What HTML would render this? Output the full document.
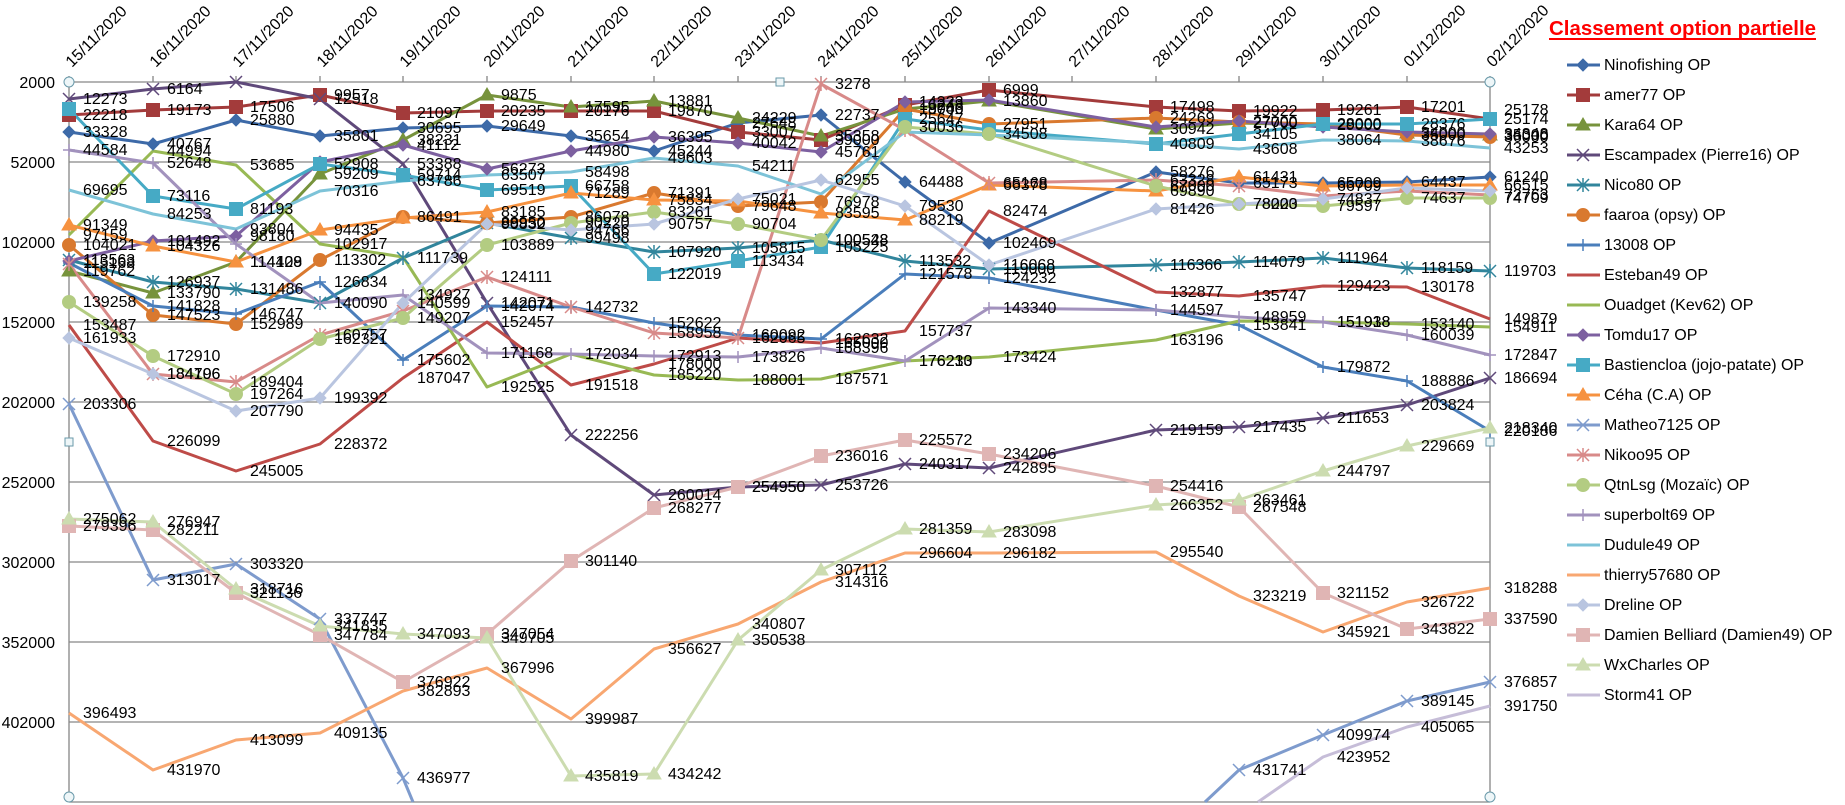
<!DOCTYPE html>
<html><head><meta charset="utf-8"><style>
html,body{margin:0;padding:0;background:#fff;width:1845px;height:805px;overflow:hidden;}
svg{display:block;font-family:"Liberation Sans",sans-serif;}
</style></head><body>
<svg width="1845" height="805" viewBox="0 0 1845 805" xmlns="http://www.w3.org/2000/svg" overflow="hidden">
<defs>
<g id="d"><polygon points="0,-6 6,0 0,6 -6,0"/></g>
<g id="s"><rect x="-6.5" y="-6.5" width="13" height="13"/></g>
<g id="t"><polygon points="0,-7 7,5 -7,5"/></g>
<g id="c"><circle r="6.5"/></g>
<g id="x"><path d="M-6,-6L6,6M-6,6L6,-6" stroke-width="1.5" fill="none"/></g>
<g id="st"><path d="M-6,-6L6,6M-6,6L6,-6M0,-7V7" stroke-width="1.5" fill="none"/></g>
<g id="p"><path d="M-6,0H6M0,-6V6" stroke-width="1.5" fill="none"/></g>
</defs>
<rect width="1845" height="805" fill="#fff"/>
<g stroke="#868686" stroke-width="1.3" fill="none">
<path d="M69,82H1490M69,162H1490M69,242H1490M69,322H1490M69,402H1490M69,482H1490M69,562H1490M69,642H1490M69,722H1490M69,802H1490"/>
<path d="M69,82V802M1490,82V802"/>
<path d="M69,76V82M153,76V82M236,76V82M320,76V82M403,76V82M487,76V82M571,76V82M654,76V82M738,76V82M821,76V82M905,76V82M989,76V82M1072,76V82M1156,76V82M1239,76V82M1323,76V82M1407,76V82M1490,76V82"/>
</g>
<g font-size="16" fill="#000" text-anchor="end">
<text x="55" y="88">2000</text><text x="55" y="168">52000</text><text x="55" y="248">102000</text><text x="55" y="328">152000</text><text x="55" y="408">202000</text><text x="55" y="488">252000</text><text x="55" y="568">302000</text><text x="55" y="648">352000</text><text x="55" y="728">402000</text>
</g>
<g font-size="16" fill="#000">
<text transform="translate(72,68) rotate(-45)">15/11/2020</text>
<text transform="translate(156,68) rotate(-45)">16/11/2020</text>
<text transform="translate(239,68) rotate(-45)">17/11/2020</text>
<text transform="translate(323,68) rotate(-45)">18/11/2020</text>
<text transform="translate(406,68) rotate(-45)">19/11/2020</text>
<text transform="translate(490,68) rotate(-45)">20/11/2020</text>
<text transform="translate(574,68) rotate(-45)">21/11/2020</text>
<text transform="translate(657,68) rotate(-45)">22/11/2020</text>
<text transform="translate(741,68) rotate(-45)">23/11/2020</text>
<text transform="translate(824,68) rotate(-45)">24/11/2020</text>
<text transform="translate(908,68) rotate(-45)">25/11/2020</text>
<text transform="translate(992,68) rotate(-45)">26/11/2020</text>
<text transform="translate(1075,68) rotate(-45)">27/11/2020</text>
<text transform="translate(1159,68) rotate(-45)">28/11/2020</text>
<text transform="translate(1242,68) rotate(-45)">29/11/2020</text>
<text transform="translate(1326,68) rotate(-45)">30/11/2020</text>
<text transform="translate(1410,68) rotate(-45)">01/12/2020</text>
<text transform="translate(1493,68) rotate(-45)">02/12/2020</text>
</g>

<g fill="none" stroke-width="3" stroke-linejoin="round">
<polyline stroke="#3D6AA8" points="69,132 153,144 236,120 320,136 403,128 487,126 571,136 654,151 738,123 821,115 905,182 989,243 1156,172 1239,183 1323,183 1407,182 1490,177"/>
<polyline stroke="#A33B3B" points="69,115 153,110 236,107 320,95 403,113 487,111 571,111 654,111 738,132 821,140 905,105 989,90 1156,107 1239,111 1323,110 1407,107 1490,119"/>
<polyline stroke="#77933C" points="69,271 153,293 236,262 320,174 403,140 487,95 571,107 654,101 738,118 821,136 905,109 989,101 1156,129 1239,123 1323,125 1407,133 1490,135"/>
<polyline stroke="#5F497A" points="69,99 153,89 236,82 320,99 403,164 487,303 571,435 654,495 738,487 821,485 905,464 989,468 1156,430 1239,427 1323,418 1407,405 1490,378"/>
<polyline stroke="#31859C" points="69,260 153,282 236,289 320,303 403,258 487,223 571,238 654,252 738,248 821,240 905,261 989,269 1156,265 1239,262 1323,258 1407,268 1490,271"/>
<polyline stroke="#D9792F" points="69,245 153,315 236,324 320,260 403,217 487,223 571,217 654,193 738,206 821,202 905,109 989,124 1156,118 1239,122 1323,124 1407,135 1490,137"/>
<polyline stroke="#4A7EBB" points="69,263 153,306 236,314 320,282 403,360 487,306 571,307 654,323 738,335 821,339 905,274 989,278 1156,310 1239,325 1323,367 1407,381 1490,431"/>
<polyline stroke="#BE4B48" points="69,325 153,441 236,471 320,444 403,378 487,322 571,385 654,364 738,338 821,343 905,331 989,211 1156,292 1239,296 1323,286 1407,287 1490,319"/>
<polyline stroke="#98B954" points="69,235 153,151 236,165 320,244 403,257 487,387 571,354 654,375 738,380 821,379 905,361 989,357 1156,340 1239,321 1323,322 1407,324 1490,327"/>
<polyline stroke="#7D60A0" points="69,261 153,241 236,236 320,162 403,145 487,169 571,151 654,137 738,143 821,152 905,102 989,100 1156,127 1239,121 1323,127 1407,132 1490,134"/>
<polyline stroke="#46AAC5" points="69,109 153,196 236,209 320,164 403,175 487,190 571,186 654,274 738,261 821,247 905,119 989,130 1156,144 1239,134 1323,124 1407,124 1490,119"/>
<polyline stroke="#F69240" points="69,225 153,246 236,262 320,230 403,218 487,212 571,193 654,200 738,201 821,213 905,220 989,185 1156,191 1239,177 1323,186 1407,185 1490,185"/>
<polyline stroke="#7E9BCD" points="69,404 153,580 236,564 320,619 403,778 413,802"/>
<polyline stroke="#7E9BCD" points="1205,802 1239,770 1323,735 1407,701 1490,682"/>
<polyline stroke="#D88A89" points="69,264 153,374 236,382 320,335 403,311 487,277 571,307 654,333 738,338 821,84 905,130 989,183 1156,180 1239,186 1323,196 1407,191 1490,195"/>
<polyline stroke="#B3CC82" points="69,302 153,356 236,394 320,339 403,318 487,245 571,223 654,212 738,224 821,240 905,127 989,134 1156,186 1239,204 1323,206 1407,198 1490,198"/>
<polyline stroke="#A292BD" points="69,150 153,163 236,244 320,303 403,295 487,353 571,354 654,356 738,357 821,348 905,361 989,308 1156,310 1239,317 1323,322 1407,335 1490,355"/>
<polyline stroke="#7DC3D8" points="69,190 153,214 236,229 320,191 403,181 487,175 571,172 654,158 738,166 821,194 905,132 989,135 1156,143 1239,149 1323,140 1407,141 1490,148"/>
<polyline stroke="#F8A771" points="69,713 153,770 236,740 320,733 403,691 487,668 571,719 654,649 738,624 821,582 905,553 989,553 1156,552 1239,596 1323,632 1407,602 1490,588"/>
<polyline stroke="#B9C5E0" points="69,338 153,374 236,411 320,398 403,303 487,224 571,230 654,224 738,199 821,180 905,206 989,265 1156,209 1239,204 1323,199 1407,188 1490,191"/>
<polyline stroke="#E0B5B4" points="69,526 153,530 236,593 320,635 403,682 487,634 571,561 654,508 738,487 821,456 905,440 989,454 1156,486 1239,507 1323,593 1407,629 1490,619"/>
<polyline stroke="#CCDCB0" points="69,519 153,522 236,589 320,626 403,634 487,638 571,776 654,774 738,640 821,570 905,529 989,532 1156,505 1239,500 1323,471 1407,446 1490,428"/>
<polyline stroke="#C6BDD8" points="1258,802 1323,757 1407,727 1490,706"/>
</g>

<g>
<g fill="#3D6AA8" stroke="#3D6AA8"><use href="#d" x="69" y="132"/><use href="#d" x="153" y="144"/><use href="#d" x="236" y="120"/><use href="#d" x="320" y="136"/><use href="#d" x="403" y="128"/><use href="#d" x="487" y="126"/><use href="#d" x="571" y="136"/><use href="#d" x="654" y="151"/><use href="#d" x="738" y="123"/><use href="#d" x="821" y="115"/><use href="#d" x="905" y="182"/><use href="#d" x="989" y="243"/><use href="#d" x="1156" y="172"/><use href="#d" x="1239" y="183"/><use href="#d" x="1323" y="183"/><use href="#d" x="1407" y="182"/><use href="#d" x="1490" y="177"/></g>
<g fill="#A33B3B" stroke="#A33B3B"><use href="#s" x="69" y="115"/><use href="#s" x="153" y="110"/><use href="#s" x="236" y="107"/><use href="#s" x="320" y="95"/><use href="#s" x="403" y="113"/><use href="#s" x="487" y="111"/><use href="#s" x="571" y="111"/><use href="#s" x="654" y="111"/><use href="#s" x="738" y="132"/><use href="#s" x="821" y="140"/><use href="#s" x="905" y="105"/><use href="#s" x="989" y="90"/><use href="#s" x="1156" y="107"/><use href="#s" x="1239" y="111"/><use href="#s" x="1323" y="110"/><use href="#s" x="1407" y="107"/><use href="#s" x="1490" y="119"/></g>
<g fill="#77933C" stroke="#77933C"><use href="#t" x="69" y="271"/><use href="#t" x="153" y="293"/><use href="#t" x="236" y="262"/><use href="#t" x="320" y="174"/><use href="#t" x="403" y="140"/><use href="#t" x="487" y="95"/><use href="#t" x="571" y="107"/><use href="#t" x="654" y="101"/><use href="#t" x="738" y="118"/><use href="#t" x="821" y="136"/><use href="#t" x="905" y="109"/><use href="#t" x="989" y="101"/><use href="#t" x="1156" y="129"/><use href="#t" x="1239" y="123"/><use href="#t" x="1323" y="125"/><use href="#t" x="1407" y="133"/><use href="#t" x="1490" y="135"/></g>
<g fill="#5F497A" stroke="#5F497A"><use href="#x" x="69" y="99"/><use href="#x" x="153" y="89"/><use href="#x" x="236" y="82"/><use href="#x" x="320" y="99"/><use href="#x" x="403" y="164"/><use href="#x" x="487" y="303"/><use href="#x" x="571" y="435"/><use href="#x" x="654" y="495"/><use href="#x" x="738" y="487"/><use href="#x" x="821" y="485"/><use href="#x" x="905" y="464"/><use href="#x" x="989" y="468"/><use href="#x" x="1156" y="430"/><use href="#x" x="1239" y="427"/><use href="#x" x="1323" y="418"/><use href="#x" x="1407" y="405"/><use href="#x" x="1490" y="378"/></g>
<g fill="#31859C" stroke="#31859C"><use href="#st" x="69" y="260"/><use href="#st" x="153" y="282"/><use href="#st" x="236" y="289"/><use href="#st" x="320" y="303"/><use href="#st" x="403" y="258"/><use href="#st" x="487" y="223"/><use href="#st" x="571" y="238"/><use href="#st" x="654" y="252"/><use href="#st" x="738" y="248"/><use href="#st" x="821" y="240"/><use href="#st" x="905" y="261"/><use href="#st" x="989" y="269"/><use href="#st" x="1156" y="265"/><use href="#st" x="1239" y="262"/><use href="#st" x="1323" y="258"/><use href="#st" x="1407" y="268"/><use href="#st" x="1490" y="271"/></g>
<g fill="#D9792F" stroke="#D9792F"><use href="#c" x="69" y="245"/><use href="#c" x="153" y="315"/><use href="#c" x="236" y="324"/><use href="#c" x="320" y="260"/><use href="#c" x="403" y="217"/><use href="#c" x="487" y="223"/><use href="#c" x="571" y="217"/><use href="#c" x="654" y="193"/><use href="#c" x="738" y="206"/><use href="#c" x="821" y="202"/><use href="#c" x="905" y="109"/><use href="#c" x="989" y="124"/><use href="#c" x="1156" y="118"/><use href="#c" x="1239" y="122"/><use href="#c" x="1323" y="124"/><use href="#c" x="1407" y="135"/><use href="#c" x="1490" y="137"/></g>
<g fill="#4A7EBB" stroke="#4A7EBB"><use href="#p" x="69" y="263"/><use href="#p" x="153" y="306"/><use href="#p" x="236" y="314"/><use href="#p" x="320" y="282"/><use href="#p" x="403" y="360"/><use href="#p" x="487" y="306"/><use href="#p" x="571" y="307"/><use href="#p" x="654" y="323"/><use href="#p" x="738" y="335"/><use href="#p" x="821" y="339"/><use href="#p" x="905" y="274"/><use href="#p" x="989" y="278"/><use href="#p" x="1156" y="310"/><use href="#p" x="1239" y="325"/><use href="#p" x="1323" y="367"/><use href="#p" x="1407" y="381"/><use href="#p" x="1490" y="431"/></g>
<g fill="#7D60A0" stroke="#7D60A0"><use href="#d" x="69" y="261"/><use href="#d" x="153" y="241"/><use href="#d" x="236" y="236"/><use href="#d" x="320" y="162"/><use href="#d" x="403" y="145"/><use href="#d" x="487" y="169"/><use href="#d" x="571" y="151"/><use href="#d" x="654" y="137"/><use href="#d" x="738" y="143"/><use href="#d" x="821" y="152"/><use href="#d" x="905" y="102"/><use href="#d" x="989" y="100"/><use href="#d" x="1156" y="127"/><use href="#d" x="1239" y="121"/><use href="#d" x="1323" y="127"/><use href="#d" x="1407" y="132"/><use href="#d" x="1490" y="134"/></g>
<g fill="#46AAC5" stroke="#46AAC5"><use href="#s" x="69" y="109"/><use href="#s" x="153" y="196"/><use href="#s" x="236" y="209"/><use href="#s" x="320" y="164"/><use href="#s" x="403" y="175"/><use href="#s" x="487" y="190"/><use href="#s" x="571" y="186"/><use href="#s" x="654" y="274"/><use href="#s" x="738" y="261"/><use href="#s" x="821" y="247"/><use href="#s" x="905" y="119"/><use href="#s" x="989" y="130"/><use href="#s" x="1156" y="144"/><use href="#s" x="1239" y="134"/><use href="#s" x="1323" y="124"/><use href="#s" x="1407" y="124"/><use href="#s" x="1490" y="119"/></g>
<g fill="#F69240" stroke="#F69240"><use href="#t" x="69" y="225"/><use href="#t" x="153" y="246"/><use href="#t" x="236" y="262"/><use href="#t" x="320" y="230"/><use href="#t" x="403" y="218"/><use href="#t" x="487" y="212"/><use href="#t" x="571" y="193"/><use href="#t" x="654" y="200"/><use href="#t" x="738" y="201"/><use href="#t" x="821" y="213"/><use href="#t" x="905" y="220"/><use href="#t" x="989" y="185"/><use href="#t" x="1156" y="191"/><use href="#t" x="1239" y="177"/><use href="#t" x="1323" y="186"/><use href="#t" x="1407" y="185"/><use href="#t" x="1490" y="185"/></g>
<g fill="#7E9BCD" stroke="#7E9BCD"><use href="#x" x="69" y="404"/><use href="#x" x="153" y="580"/><use href="#x" x="236" y="564"/><use href="#x" x="320" y="619"/><use href="#x" x="403" y="778"/><use href="#x" x="1239" y="770"/><use href="#x" x="1323" y="735"/><use href="#x" x="1407" y="701"/><use href="#x" x="1490" y="682"/></g>
<g fill="#D88A89" stroke="#D88A89"><use href="#st" x="69" y="264"/><use href="#st" x="153" y="374"/><use href="#st" x="236" y="382"/><use href="#st" x="320" y="335"/><use href="#st" x="403" y="311"/><use href="#st" x="487" y="277"/><use href="#st" x="571" y="307"/><use href="#st" x="654" y="333"/><use href="#st" x="738" y="338"/><use href="#st" x="821" y="84"/><use href="#st" x="905" y="130"/><use href="#st" x="989" y="183"/><use href="#st" x="1156" y="180"/><use href="#st" x="1239" y="186"/><use href="#st" x="1323" y="196"/><use href="#st" x="1407" y="191"/><use href="#st" x="1490" y="195"/></g>
<g fill="#B3CC82" stroke="#B3CC82"><use href="#c" x="69" y="302"/><use href="#c" x="153" y="356"/><use href="#c" x="236" y="394"/><use href="#c" x="320" y="339"/><use href="#c" x="403" y="318"/><use href="#c" x="487" y="245"/><use href="#c" x="571" y="223"/><use href="#c" x="654" y="212"/><use href="#c" x="738" y="224"/><use href="#c" x="821" y="240"/><use href="#c" x="905" y="127"/><use href="#c" x="989" y="134"/><use href="#c" x="1156" y="186"/><use href="#c" x="1239" y="204"/><use href="#c" x="1323" y="206"/><use href="#c" x="1407" y="198"/><use href="#c" x="1490" y="198"/></g>
<g fill="#A292BD" stroke="#A292BD"><use href="#p" x="69" y="150"/><use href="#p" x="153" y="163"/><use href="#p" x="236" y="244"/><use href="#p" x="320" y="303"/><use href="#p" x="403" y="295"/><use href="#p" x="487" y="353"/><use href="#p" x="571" y="354"/><use href="#p" x="654" y="356"/><use href="#p" x="738" y="357"/><use href="#p" x="821" y="348"/><use href="#p" x="905" y="361"/><use href="#p" x="989" y="308"/><use href="#p" x="1156" y="310"/><use href="#p" x="1239" y="317"/><use href="#p" x="1323" y="322"/><use href="#p" x="1407" y="335"/><use href="#p" x="1490" y="355"/></g>
<g fill="#B9C5E0" stroke="#B9C5E0"><use href="#d" x="69" y="338"/><use href="#d" x="153" y="374"/><use href="#d" x="236" y="411"/><use href="#d" x="320" y="398"/><use href="#d" x="403" y="303"/><use href="#d" x="487" y="224"/><use href="#d" x="571" y="230"/><use href="#d" x="654" y="224"/><use href="#d" x="738" y="199"/><use href="#d" x="821" y="180"/><use href="#d" x="905" y="206"/><use href="#d" x="989" y="265"/><use href="#d" x="1156" y="209"/><use href="#d" x="1239" y="204"/><use href="#d" x="1323" y="199"/><use href="#d" x="1407" y="188"/><use href="#d" x="1490" y="191"/></g>
<g fill="#E0B5B4" stroke="#E0B5B4"><use href="#s" x="69" y="526"/><use href="#s" x="153" y="530"/><use href="#s" x="236" y="593"/><use href="#s" x="320" y="635"/><use href="#s" x="403" y="682"/><use href="#s" x="487" y="634"/><use href="#s" x="571" y="561"/><use href="#s" x="654" y="508"/><use href="#s" x="738" y="487"/><use href="#s" x="821" y="456"/><use href="#s" x="905" y="440"/><use href="#s" x="989" y="454"/><use href="#s" x="1156" y="486"/><use href="#s" x="1239" y="507"/><use href="#s" x="1323" y="593"/><use href="#s" x="1407" y="629"/><use href="#s" x="1490" y="619"/></g>
<g fill="#CCDCB0" stroke="#CCDCB0"><use href="#t" x="69" y="519"/><use href="#t" x="153" y="522"/><use href="#t" x="236" y="589"/><use href="#t" x="320" y="626"/><use href="#t" x="403" y="634"/><use href="#t" x="487" y="638"/><use href="#t" x="571" y="776"/><use href="#t" x="654" y="774"/><use href="#t" x="738" y="640"/><use href="#t" x="821" y="570"/><use href="#t" x="905" y="529"/><use href="#t" x="989" y="532"/><use href="#t" x="1156" y="505"/><use href="#t" x="1239" y="500"/><use href="#t" x="1323" y="471"/><use href="#t" x="1407" y="446"/><use href="#t" x="1490" y="428"/></g>
</g>

<g font-size="16" fill="#000">
<text x="83" y="137">33328</text><text x="167" y="149">40767</text><text x="250" y="125">25880</text><text x="334" y="141">35801</text><text x="417" y="133">30695</text><text x="501" y="131">29649</text><text x="585" y="141">35654</text><text x="668" y="156">45244</text><text x="752" y="128">27648</text><text x="835" y="120">22737</text><text x="919" y="187">64488</text><text x="1003" y="248">102469</text><text x="1170" y="177">58276</text><text x="1253" y="188">65173</text><text x="1337" y="188">65009</text><text x="1421" y="187">64437</text><text x="1504" y="182">61240</text>
<text x="83" y="120">22218</text><text x="167" y="115">19173</text><text x="250" y="112">17506</text><text x="334" y="100">9957</text><text x="417" y="118">21097</text><text x="501" y="116">20235</text><text x="585" y="116">20176</text><text x="668" y="116">19870</text><text x="752" y="137">33007</text><text x="835" y="145">39000</text><text x="919" y="110">16248</text><text x="1003" y="95">6999</text><text x="1170" y="112">17498</text><text x="1253" y="116">19922</text><text x="1337" y="115">19261</text><text x="1421" y="112">17201</text><text x="1504" y="124">25174</text>
<text x="83" y="276">119762</text><text x="167" y="298">133790</text><text x="250" y="267">114128</text><text x="334" y="179">59209</text><text x="417" y="145">38231</text><text x="501" y="100">9875</text><text x="585" y="112">17595</text><text x="668" y="106">13881</text><text x="752" y="123">24229</text><text x="835" y="141">35358</text><text x="919" y="114">18746</text><text x="1003" y="106">13860</text><text x="1170" y="134">30942</text><text x="1253" y="128">27700</text><text x="1337" y="130">29000</text><text x="1421" y="138">34000</text><text x="1504" y="140">35000</text>
<text x="83" y="104">12273</text><text x="167" y="94">6164</text><text x="334" y="104">12518</text><text x="417" y="169">53388</text><text x="501" y="308">142071</text><text x="585" y="440">222256</text><text x="668" y="500">260014</text><text x="752" y="492">254950</text><text x="835" y="490">253726</text><text x="919" y="469">240317</text><text x="1003" y="473">242895</text><text x="1170" y="435">219159</text><text x="1253" y="432">217435</text><text x="1337" y="423">211653</text><text x="1421" y="410">203824</text><text x="1504" y="383">186694</text>
<text x="83" y="265">113563</text><text x="167" y="287">126937</text><text x="250" y="294">131486</text><text x="334" y="308">140090</text><text x="417" y="263">111739</text><text x="501" y="228">88950</text><text x="585" y="243">99498</text><text x="668" y="257">107920</text><text x="752" y="253">105815</text><text x="835" y="245">100528</text><text x="919" y="266">113532</text><text x="1003" y="274">119000</text><text x="1170" y="270">116366</text><text x="1253" y="267">114079</text><text x="1337" y="263">111964</text><text x="1421" y="273">118159</text><text x="1504" y="276">119703</text>
<text x="83" y="250">104021</text><text x="167" y="320">147523</text><text x="250" y="329">152989</text><text x="334" y="265">113302</text><text x="417" y="222">86491</text><text x="501" y="228">89950</text><text x="585" y="222">86078</text><text x="668" y="198">71391</text><text x="752" y="211">79648</text><text x="835" y="207">76978</text><text x="919" y="114">19000</text><text x="1003" y="129">27951</text><text x="1170" y="123">24269</text><text x="1253" y="127">27000</text><text x="1337" y="129">28000</text><text x="1421" y="140">35000</text><text x="1504" y="142">36000</text>
<text x="83" y="268">115168</text><text x="167" y="311">141828</text><text x="250" y="319">146747</text><text x="334" y="287">126834</text><text x="417" y="365">175602</text><text x="501" y="311">142074</text><text x="585" y="312">142732</text><text x="668" y="328">152622</text><text x="752" y="340">160092</text><text x="835" y="344">162632</text><text x="919" y="279">121578</text><text x="1003" y="283">124232</text><text x="1170" y="315">144597</text><text x="1253" y="330">153841</text><text x="1337" y="372">179872</text><text x="1421" y="386">188886</text><text x="1504" y="436">220186</text>
<text x="83" y="330">153487</text><text x="167" y="446">226099</text><text x="250" y="476">245005</text><text x="334" y="449">228372</text><text x="417" y="383">187047</text><text x="501" y="327">152457</text><text x="585" y="390">191518</text><text x="668" y="369">178000</text><text x="752" y="343">162065</text><text x="835" y="348">165000</text><text x="919" y="336">157737</text><text x="1003" y="216">82474</text><text x="1170" y="297">132877</text><text x="1253" y="301">135747</text><text x="1337" y="291">129423</text><text x="1421" y="292">130178</text><text x="1504" y="324">149879</text>
<text x="83" y="240">97159</text><text x="167" y="156">44994</text><text x="250" y="170">53685</text><text x="334" y="249">102917</text><text x="501" y="392">192525</text><text x="585" y="359">172034</text><text x="668" y="380">185220</text><text x="752" y="385">188001</text><text x="835" y="384">187571</text><text x="919" y="366">176230</text><text x="1003" y="362">173424</text><text x="1170" y="345">163196</text><text x="1337" y="327">151938</text><text x="1421" y="329">153140</text><text x="1504" y="332">154911</text>
<text x="167" y="246">101492</text><text x="250" y="241">98180</text><text x="417" y="150">41112</text><text x="501" y="174">56273</text><text x="585" y="156">44980</text><text x="668" y="142">36395</text><text x="752" y="148">40042</text><text x="835" y="157">45761</text><text x="919" y="107">14323</text><text x="1504" y="139">34348</text>
<text x="167" y="201">73116</text><text x="250" y="214">81193</text><text x="334" y="169">52908</text><text x="417" y="180">59714</text><text x="501" y="195">69519</text><text x="585" y="191">66758</text><text x="668" y="279">122019</text><text x="752" y="266">113434</text><text x="835" y="252">105225</text><text x="919" y="124">25647</text><text x="1170" y="149">40809</text><text x="1253" y="139">34105</text><text x="1421" y="129">28376</text><text x="1504" y="115">25178</text>
<text x="83" y="230">91349</text><text x="167" y="251">104326</text><text x="250" y="267">114409</text><text x="334" y="235">94435</text><text x="501" y="217">83185</text><text x="585" y="198">71289</text><text x="668" y="205">75834</text><text x="835" y="218">83595</text><text x="919" y="225">88219</text><text x="1003" y="190">66378</text><text x="1170" y="196">69890</text><text x="1253" y="182">61431</text><text x="1337" y="191">66709</text><text x="1504" y="190">66515</text>
<text x="83" y="409">203306</text><text x="167" y="585">313017</text><text x="250" y="569">303320</text><text x="334" y="624">337747</text><text x="417" y="783">436977</text><text x="1253" y="775">431741</text><text x="1337" y="740">409974</text><text x="1421" y="706">389145</text><text x="1504" y="687">376857</text>
<text x="167" y="379">184706</text><text x="250" y="387">189404</text><text x="334" y="340">160757</text><text x="501" y="282">124111</text><text x="668" y="338">158958</text><text x="835" y="89">3278</text><text x="1003" y="188">65168</text><text x="1170" y="185">63328</text><text x="1504" y="200">72763</text>
<text x="83" y="307">139258</text><text x="167" y="361">172910</text><text x="250" y="399">197264</text><text x="334" y="344">162321</text><text x="417" y="323">149207</text><text x="501" y="250">103889</text><text x="585" y="228">90220</text><text x="668" y="217">83261</text><text x="752" y="229">90704</text><text x="835" y="245">100548</text><text x="919" y="132">30036</text><text x="1003" y="139">34508</text><text x="1170" y="191">67000</text><text x="1253" y="209">78000</text><text x="1337" y="211">79597</text><text x="1421" y="203">74637</text><text x="1504" y="203">74709</text>
<text x="83" y="155">44584</text><text x="167" y="168">52648</text><text x="417" y="300">134927</text><text x="501" y="358">171168</text><text x="668" y="361">172913</text><text x="752" y="362">173826</text><text x="835" y="353">168396</text><text x="919" y="366">176213</text><text x="1003" y="313">143340</text><text x="1253" y="322">148959</text><text x="1337" y="327">151918</text><text x="1421" y="340">160039</text><text x="1504" y="360">172847</text>
<text x="83" y="195">69695</text><text x="167" y="219">84253</text><text x="250" y="234">93804</text><text x="334" y="196">70316</text><text x="417" y="186">63786</text><text x="501" y="180">63507</text><text x="585" y="177">58498</text><text x="668" y="163">49603</text><text x="752" y="171">54211</text><text x="1253" y="154">43608</text><text x="1337" y="145">38064</text><text x="1421" y="146">38676</text><text x="1504" y="153">43253</text>
<text x="83" y="718">396493</text><text x="167" y="775">431970</text><text x="250" y="745">413099</text><text x="334" y="738">409135</text><text x="417" y="696">382893</text><text x="501" y="673">367996</text><text x="585" y="724">399987</text><text x="668" y="654">356627</text><text x="752" y="629">340807</text><text x="835" y="587">314316</text><text x="919" y="558">296604</text><text x="1003" y="558">296182</text><text x="1170" y="557">295540</text><text x="1253" y="601">323219</text><text x="1337" y="637">345921</text><text x="1421" y="607">326722</text><text x="1504" y="593">318288</text>
<text x="83" y="343">161933</text><text x="167" y="379">184196</text><text x="250" y="416">207790</text><text x="334" y="403">199392</text><text x="417" y="308">140599</text><text x="501" y="229">90832</text><text x="585" y="235">94766</text><text x="668" y="229">90757</text><text x="752" y="204">75021</text><text x="835" y="185">62955</text><text x="919" y="211">79530</text><text x="1003" y="270">116068</text><text x="1170" y="214">81426</text><text x="1253" y="209">78223</text><text x="1337" y="204">74837</text>
<text x="83" y="531">279396</text><text x="167" y="535">282211</text><text x="250" y="598">321136</text><text x="334" y="640">347784</text><text x="417" y="687">376922</text><text x="501" y="639">347054</text><text x="585" y="566">301140</text><text x="668" y="513">268277</text><text x="752" y="492">254950</text><text x="835" y="461">236016</text><text x="919" y="445">225572</text><text x="1003" y="459">234206</text><text x="1170" y="491">254416</text><text x="1253" y="512">267548</text><text x="1337" y="598">321152</text><text x="1421" y="634">343822</text><text x="1504" y="624">337590</text>
<text x="83" y="524">275062</text><text x="167" y="527">276947</text><text x="250" y="594">318716</text><text x="334" y="631">341835</text><text x="417" y="639">347093</text><text x="501" y="643">349705</text><text x="585" y="781">435819</text><text x="668" y="779">434242</text><text x="752" y="645">350538</text><text x="835" y="575">307112</text><text x="919" y="534">281359</text><text x="1003" y="537">283098</text><text x="1170" y="510">266352</text><text x="1253" y="505">263461</text><text x="1337" y="476">244797</text><text x="1421" y="451">229669</text><text x="1504" y="433">218340</text>
<text x="1337" y="762">423952</text><text x="1421" y="732">405065</text><text x="1504" y="711">391750</text>
</g>

<g fill="#eef6f8" stroke="#6a9aaa" stroke-width="1">
<circle cx="69" cy="82" r="5"/><circle cx="1490" cy="82" r="5"/><circle cx="69" cy="797" r="5"/><circle cx="1490" cy="797" r="5"/>
<rect x="776" y="78" width="8" height="8"/><rect x="65" y="438" width="8" height="8"/><rect x="1486" y="438" width="8" height="8"/>
</g>

<text x="1549" y="35" font-size="20" font-weight="bold" fill="#FF0000" textLength="267" lengthAdjust="spacingAndGlyphs">Classement option partielle</text>
<rect x="1549" y="38" width="267" height="2" fill="#FF0000"/>

<g font-size="16" fill="#000">
<text x="1604" y="70">Ninofishing OP</text>
<text x="1604" y="100">amer77 OP</text>
<text x="1604" y="130">Kara64  OP</text>
<text x="1604" y="160">Escampadex (Pierre16) OP</text>
<text x="1604" y="190">Nico80 OP</text>
<text x="1604" y="220">faaroa (opsy) OP</text>
<text x="1604" y="250">13008 OP</text>
<text x="1604" y="280">Esteban49 OP</text>
<text x="1604" y="310">Ouadget (Kev62) OP</text>
<text x="1604" y="340">Tomdu17 OP</text>
<text x="1604" y="370">Bastiencloa (jojo-patate) OP</text>
<text x="1604" y="400">Céha (C.A) OP</text>
<text x="1604" y="430">Matheo7125 OP</text>
<text x="1604" y="460">Nikoo95 OP</text>
<text x="1604" y="490">QtnLsg (Mozaïc) OP</text>
<text x="1604" y="520">superbolt69 OP</text>
<text x="1604" y="550">Dudule49 OP</text>
<text x="1604" y="580">thierry57680 OP</text>
<text x="1604" y="610">Dreline OP</text>
<text x="1604" y="640">Damien Belliard (Damien49) OP</text>
<text x="1604" y="670">WxCharles OP</text>
<text x="1604" y="700">Storm41 OP</text>
</g>
<g stroke-width="3">
<path d="M1567,65H1600" stroke="#3D6AA8"/><path d="M1567,95H1600" stroke="#A33B3B"/><path d="M1567,125H1600" stroke="#77933C"/><path d="M1567,155H1600" stroke="#5F497A"/><path d="M1567,185H1600" stroke="#31859C"/><path d="M1567,215H1600" stroke="#D9792F"/><path d="M1567,245H1600" stroke="#4A7EBB"/><path d="M1567,275H1600" stroke="#BE4B48"/><path d="M1567,305H1600" stroke="#98B954"/><path d="M1567,335H1600" stroke="#7D60A0"/><path d="M1567,365H1600" stroke="#46AAC5"/><path d="M1567,395H1600" stroke="#F69240"/><path d="M1567,425H1600" stroke="#7E9BCD"/><path d="M1567,455H1600" stroke="#D88A89"/><path d="M1567,485H1600" stroke="#B3CC82"/><path d="M1567,515H1600" stroke="#A292BD"/><path d="M1567,545H1600" stroke="#7DC3D8"/><path d="M1567,575H1600" stroke="#F8A771"/><path d="M1567,605H1600" stroke="#B9C5E0"/><path d="M1567,635H1600" stroke="#E0B5B4"/><path d="M1567,665H1600" stroke="#CCDCB0"/><path d="M1567,695H1600" stroke="#C6BDD8"/>
</g>
<use href="#d" x="1583" y="65" fill="#3D6AA8" stroke="#3D6AA8"/>
<use href="#s" x="1583" y="95" fill="#A33B3B" stroke="#A33B3B"/>
<use href="#t" x="1583" y="125" fill="#77933C" stroke="#77933C"/>
<use href="#x" x="1583" y="155" fill="#5F497A" stroke="#5F497A"/>
<use href="#st" x="1583" y="185" fill="#31859C" stroke="#31859C"/>
<use href="#c" x="1583" y="215" fill="#D9792F" stroke="#D9792F"/>
<use href="#p" x="1583" y="245" fill="#4A7EBB" stroke="#4A7EBB"/>
<use href="#d" x="1583" y="335" fill="#7D60A0" stroke="#7D60A0"/>
<use href="#s" x="1583" y="365" fill="#46AAC5" stroke="#46AAC5"/>
<use href="#t" x="1583" y="395" fill="#F69240" stroke="#F69240"/>
<use href="#x" x="1583" y="425" fill="#7E9BCD" stroke="#7E9BCD"/>
<use href="#st" x="1583" y="455" fill="#D88A89" stroke="#D88A89"/>
<use href="#c" x="1583" y="485" fill="#B3CC82" stroke="#B3CC82"/>
<use href="#p" x="1583" y="515" fill="#A292BD" stroke="#A292BD"/>
<use href="#d" x="1583" y="605" fill="#B9C5E0" stroke="#B9C5E0"/>
<use href="#s" x="1583" y="635" fill="#E0B5B4" stroke="#E0B5B4"/>
<use href="#t" x="1583" y="665" fill="#CCDCB0" stroke="#CCDCB0"/>
</svg>
</body></html>
